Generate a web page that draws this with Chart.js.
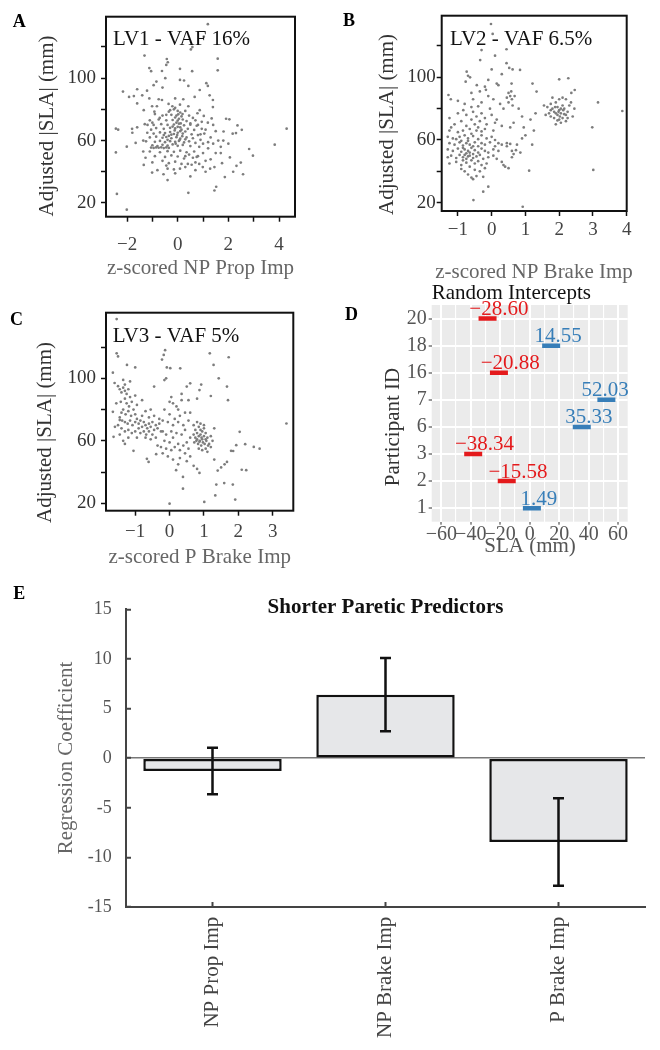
<!DOCTYPE html>
<html><head><meta charset="utf-8">
<script src="https://cdn.jsdelivr.net/npm/chart.js@4.4.1/dist/chart.umd.min.js"></script>
<style>
html,body{margin:0;padding:0;background:#fff;}
#wrap{position:relative;width:660px;height:1050px;overflow:hidden;background:#fff;}
canvas{position:absolute;}
</style></head><body>
<div id="wrap">
<canvas id="cA" width="330" height="290" style="left:0;top:0"></canvas>
<canvas id="cB" width="330" height="290" style="left:330px;top:0"></canvas>
<canvas id="cC" width="330" height="280" style="left:0;top:290px"></canvas>
<canvas id="cD" width="330" height="290" style="left:330px;top:280px"></canvas>
<canvas id="cE" width="660" height="480" style="left:0;top:570px"></canvas>
</div>
<script>
// ---------------- DATA ----------------
// Panel A: z-scored NP Prop Imp vs Adjusted |SLA| (mm)
const lv1Pts = [
[1.19,134.6],[1.03,126.6],[0.58,119.9],[0.52,118.4],[-1.31,114.5],[1.58,112.5],[-0.43,112.3],[-0.39,110.2],[-0.45,108.5],[1.58,105],
[-1.12,106.5],[0.09,106],[-1.05,104.5],[-0.62,104.6],[0.57,104.5],[-0.49,100],[0.09,98.9],[0.25,98.5],[-0.84,97.8],[1.13,96.8],
[1.19,95],[-0.95,95.5],[-0.6,94],[0.42,95],[-2.16,91.4],[-1.6,92.9],[0.87,92.4],[-1.92,88],[-1.73,88.5],[-1.21,92],
[-1.12,87],[-1.4,89],[-0.75,86.5],[-0.62,86],[-0.1,87],[0.22,86.5],[0.67,88],[1.26,89],[1.39,86],[0.09,83],
[-1.6,83.8],[-1.01,82],[-0.82,82],[-0.36,83.5],[-0.1,81],[0.42,82],[0.87,79.5],[1.39,81.5],[-1.34,79.5],[-0.92,78.5],
[-0.3,79.5],[-0.21,82],[0.19,77],[0.78,77.5],[1.03,75.8],[1.34,74.2],[1.91,74],[2.04,73.6],[1.19,71.5],[-0.45,76.5],
[-0.71,74.5],[-1.0,71.5],[-1.19,70],[-1.6,68.5],[-1.8,67.5],[-2.44,67.6],[-2.35,67],[2.36,69.7],[2.53,66.9],[2.3,64.8],
[2.17,64.4],[1.81,65.8],[4.3,67.6],[2.82,54.6],[3.83,57.4],[2.97,50.3],[2.06,49.2],[1.75,45.5],[2.49,45.9],[2.32,43.8],
[2.19,40],[2.58,38.4],[1.86,36.6],[1.45,43],[1.28,42],[0.99,43],[1.52,30.4],[1.45,28],[0.42,26.5],[0.09,42],
[-0.1,39],[-0.4,34.7],[-0.56,38.4],[-1.01,39.5],[-1.34,44.4],[-1.27,49],[-1.36,53],[-1.36,60],[-1.66,58.5],[-1.79,65],
[-2.01,56.1],[-2.44,52.4],[-2.4,25.8],[-2.01,15.7],
[1.6,60],[1.4,58],[1.7,56],[1.2,55],[1.5,52],[1.0,52],[0.8,50],[1.3,48],[1.1,47],[0.6,49],[0.4,45],[0.3,50],[0.7,46],
[1.0,58],[1.3,62],[0.9,64],[1.5,66],[1.1,67],[0.8,70],[0.5,71],[1.8,60],[2.0,58],[1.7,52],[1.1,40],[0.7,41],[0.5,37],
[-0.15,80],[0.0,79],[-0.35,78.5],[0.1,78],[0.3,79],
[-0.6,76],[-0.25,76.5],[-0.05,76],[0.15,75.5],[0.45,76],[-0.9,77],[0.6,74.5],
[-1.1,73],[-0.75,73.5],[-0.45,73],[-0.2,73.2],[0.0,72.8],[0.2,73.5],[0.35,72.5],[0.7,73],[0.95,72],
[-1.3,70.5],[-0.95,70],[-0.65,70.5],[-0.4,70],[-0.15,70.3],[0.05,70.8],[0.25,69.8],[0.5,70.2],[0.75,69.5],[1.4,70],
[-0.85,68],[-0.55,67.5],[-0.3,68.2],[-0.1,67.8],[0.1,68.5],[0.15,67],[0.4,67.5],[0.65,66.8],[0.95,67.5],[-1.05,67],
[-1.2,65],[-0.95,64.5],[-0.7,65.2],[-0.5,64.8],[-0.3,65.5],[-0.15,64.2],[0.0,65],[0.2,64.5],[0.3,65.8],[0.55,64],[0.8,63.5],[1.05,64.5],
[-1.1,62],[-0.85,62.5],[-0.6,61.8],[-0.45,62.3],[-0.25,61.5],[-0.05,62.2],[0.1,61.2],[0.35,62],[0.6,61.5],[0.9,60.5],[-0.35,63],
[-1.25,59.5],[-0.9,59.2],[-0.7,59.8],[-0.5,59],[-0.3,59.6],[-0.1,59.2],[0.05,59.8],[0.25,58.8],[0.45,59.5],[0.7,58.5],[1.2,59],
[-1.0,57],[-0.8,56.5],[-0.6,57.3],[-0.4,56.8],[-0.2,57.5],[0.0,56.6],[0.2,57.2],[0.5,56.5],[0.85,56],
[-1.05,55.5],[-0.95,55.3],[-0.85,55.6],[-0.75,55.4],[-0.65,55.7],[-0.55,55.2],[-0.45,55.6],[-0.35,55.3],
[-1.1,53],[-0.7,52.5],[-0.4,53.2],[-0.15,52.8],[0.1,53.5],[0.35,52.5],[0.65,53],
[-0.9,50],[-0.5,49.5],[-0.25,50.5],[0.0,49.8],[0.25,48.5],[0.45,51],[0.75,49.5],
[-1.0,46],[-0.6,47],[-0.35,45.5],[-0.45,44],[-0.1,46.5],[0.15,45],[0.55,44.5],[0.85,45],
[-0.4,42],[-0.15,41.5],[0.3,43],[-0.8,41],
[0.05,74],[-0.05,71.5],[0.1,66],[-0.02,63.5],[0.08,60.5],[-0.2,69],[0.12,71],[-0.12,66.5],[0.0,68.8],[-0.25,63.8],
[0.18,62.8],[-0.08,58],[0.3,60.8],[-0.4,60.5],[-0.55,63.5],[0.02,76.8],[-0.1,74.8]
];

// Panel B: z-scored NP Brake Imp vs Adjusted |SLA| (mm)
const lv2Pts = [
[-0.02,134],[0.03,127.7],[0.44,117.9],[-0.3,117.4],[0.1,113.8],[-0.34,111],[0.44,109],[0.52,106],[0.62,105],[0.84,104.7],
[-0.74,103.6],[-0.7,101],[0.0,105],[0.3,102],[-0.1,98.3],[-0.77,97.2],[-0.64,100],[-0.44,95],[0.2,95],[-0.17,92],
[0.59,96],[1.21,96],[1.33,90.9],[2.27,99.4],[2.0,98.7],[2.46,91.9],[2.36,90],[3.15,84],[3.87,78.5],[2.98,68.1],
[3.01,40.9],[1.11,40.4],[0.92,17.4],[-0.54,21.7],[-0.25,27],[-0.1,30.2],
[-1.28,88.7],[-1.21,86],[-1.0,85],[-0.8,83],[-0.55,86],[-0.3,84],[-0.1,88],[0.05,86],[0.25,83],[0.35,80],
[0.8,80],[0.9,75],[1.15,73],[1.3,77],[0.65,71],[0.55,68],[0.3,69],[0.15,73],[0.0,76],[0.1,71],[-0.05,80],
[-0.35,91],[-0.6,90],[-0.2,94],[0.15,96],
[0.5,90],[0.55,88],[0.6,86],[0.5,84],[0.62,82],[0.58,91],[0.45,87],[0.68,88],
[0.6,53],[0.72,53.5],[0.65,51],[0.6,49],[0.75,57],[0.9,61],[1.0,63],[0.45,56],[0.35,44],[0.4,43],[0.5,42],[0.3,46],
[0.15,48],[0.2,58],[0.3,57],[0.45,58],[0.55,57.5],[0.85,52],[1.2,57],[1.25,66],[0.95,68],
[1.65,81],[1.75,83],[1.8,80],[1.85,78],[1.9,84],[1.95,81],[2.0,79],[2.05,77],[2.1,82],[2.15,80],[2.2,76],[2.25,78],[2.3,82],
[1.7,77],[1.75,75],[1.85,74],[1.95,76],[2.0,73],[2.05,71],[2.1,74],[2.2,72],[1.9,70],[1.95,72.5],[2.0,86],[2.1,87],[2.2,86],
[2.35,84],[2.4,75],[2.45,80],[1.6,76],[1.55,82],[1.8,87],[1.9,77],[2.05,80],[2.15,76.5],[1.98,78],[1.88,81],[2.12,79],
[2.02,75],[1.75,79],[2.25,74],
[-0.9,72],[-0.6,73],[-0.35,72],[-0.15,70],[-0.5,70],[-0.75,69],[-1.1,70],[-1.2,68],
[-1.25,66],[-1.0,65],[-0.85,66],[-0.65,67],[-0.45,66],[-0.3,65.5],[-0.4,68],[-0.2,67],[0.05,66],
[-1.3,62],[-1.15,61],[-0.95,62],[-0.8,63],[-0.7,61],[-0.55,62.5],[-0.4,60.5],[-0.3,63],[-0.15,61],[0.0,62],[0.1,60],[-0.6,64],[-1.05,60.5],
[-1.25,58],[-1.1,57],[-0.95,58.5],[-0.85,56.5],[-0.75,58],[-0.65,57],[-0.5,58.5],[-0.4,56],[-0.3,58],[-0.2,57],[-0.05,58.5],[0.1,56],
[-0.55,56],[-0.9,59.5],[-0.7,59.5],
[-1.3,54],[-1.15,53],[-1.0,54.5],[-0.9,52.5],[-0.8,54],[-0.7,53],[-0.6,55],[-0.5,53.5],[-0.4,52],[-0.3,54.5],[-0.2,53],[-0.1,52],
[0.05,54],[0.2,53],[-0.85,55],[-0.75,51.5],[-0.65,52],[-0.55,51],
[-1.3,49],[-1.2,50],[-1.05,48.5],[-0.95,50.5],[-0.85,49],[-0.75,48],[-0.65,50],[-0.55,48.5],[-0.45,49.5],[-0.35,50.5],[-0.25,48],
[-0.1,49],[0.05,50],[-0.7,49.5],[-0.8,50.5],
[-1.25,45],[-1.05,46],[-0.9,44],[-0.75,45.5],[-0.65,43],[-0.5,45],[-0.4,46.5],[-0.3,44],[-0.15,45],[-0.6,47],[-0.85,47],
[-0.8,40],[-0.7,38],[-0.6,36],[-0.45,37],[-0.35,40],[-0.25,36.5],[-0.5,41],[-0.9,41.5],[-0.2,42],[-0.55,35],
[-0.84,79],[-0.55,78],[-0.3,77],[-0.75,76],[-0.45,75],[-0.2,74],[-1.0,77],[-0.6,81],[-0.4,81.5],[-1.25,74]
];

// Panel C: z-scored P Brake Imp vs Adjusted |SLA| (mm)
const lv3Pts = [
[-1.54,137.9],[-1.54,116],[-1.5,114],[-1.24,108.6],[-1.0,107],[-1.65,103.6],[-0.13,118],[-0.17,115],[-0.22,112],[-0.08,107],
[0.02,106.5],[0.31,106.4],[-0.15,98.9],[-0.1,100],[0.6,96.8],[0.92,96],[1.17,116],[1.28,108.6],[1.72,113.5],[1.43,100],
[1.67,94.7],[1.7,86],[1.2,88.7],[0.8,87],[0.87,92.5],[0.5,94.7],[-0.45,94.7],[3.4,71.1],[2.04,65.8],[2.2,57.9],
[1.94,57.2],[2.45,56.1],[2.62,55],[1.79,53.6],[1.85,53.5],[2.23,41.2],[2.1,41.5],[1.84,32],[1.59,33],[1.91,22.4],
[1.36,32],[1.33,25.1],[1.01,20.9],[0.0,19.8],[0.39,29.4],[0.39,36.9],[0.87,39.5],[1.5,43],[1.4,41],[1.6,45],
[1.67,46.5],[1.3,48],[-0.61,46.5],[-0.66,48.5],[-0.39,51.5],[0.19,41.2],[-1.63,62.6],[-1.3,58],[-1.05,53.6],[-1.65,78.6],
[-1.59,69],[-1.45,73.3],[-1.55,84],[-1.6,97],[-1.35,99],[-1.15,98],[-1.3,96],
[-1.5,95],[-1.45,93],[-1.4,91],[-1.35,94],[-1.3,92],[-1.25,90],[-1.2,93],[-1.15,88],[-1.3,87],[-1.42,85],
[-1.25,84],[-1.18,82],[-1.1,85],[-1.05,80],[-1.35,80],[-1.4,78],[-1.28,77],[-1.2,79],[-1.12,76],[-1.0,77],
[-0.95,74],[-1.45,75],[-1.38,73],[-1.3,72],[-1.22,71],[-1.15,73],[-1.08,70],[-1.0,72],[-0.9,71],[-0.85,73],
[-0.8,69],[-0.75,72],[-0.7,70],[-0.65,68],[-0.6,71],[-0.55,69],[-0.5,72],[-0.45,67],[-0.4,70],[-0.35,68],
[-0.3,71],[-0.25,66],[-1.4,68],[-1.3,66],[-1.2,67],[-1.1,65],[-1.0,66],[-0.9,68],[-0.85,65],[-0.75,66],
[-0.68,64],[-0.6,66],[-0.5,64],[-1.45,64],[-1.5,70],[-1.2,62],[-0.95,62],[-0.7,62],[-0.55,61],[-1.35,60],
[-0.8,76],[-0.6,75],[-0.45,76],[-0.3,74],[-0.2,73],[-0.95,83],[-0.8,86],[-1.0,89],[-0.7,79],[-0.55,80],
[-0.15,80],[0.0,85],[0.05,88],[0.1,84],[0.2,82],[0.35,86],[0.45,78],[0.3,76],[0.15,74],[0.0,77],
[-0.05,72],[0.1,70],[0.25,72],[0.4,70],[0.55,73],[0.6,78],[-0.2,66],[-0.1,64],[0.05,66],[0.2,65],
[0.35,64],[0.45,67],[0.6,62],[-0.15,60],[0.0,59],[0.1,62],[0.25,58],[0.4,57],[0.5,59],[-0.25,56],
[-0.1,55],[0.05,54],[0.15,56],[0.3,54],[0.45,52],[0.55,55],[-0.05,50],[0.1,48],[0.3,49],[0.5,47],
[0.6,50],[0.7,44],[0.8,42],[0.25,45],[-0.2,52],[-0.35,57],[-0.4,62],[0.35,90],[0.55,86],[0.25,80],
[0.7,70],[0.75,67],[0.8,72],[0.85,69],[0.9,71],[0.95,66],[1.0,68],[0.7,64],[0.75,62],[0.8,65],
[0.85,63],[0.9,64],[0.95,61],[1.0,63],[1.05,65],[1.1,62],[0.72,59],[0.78,60],[0.83,58],[0.88,60],
[0.92,57],[0.97,59],[1.02,58],[1.07,60],[1.12,57],[0.85,55],[0.95,54],[1.05,55],[1.1,53],[1.15,58],
[0.9,67],[1.0,70],[0.8,61],[0.93,62],[0.87,59.5],[1.05,61],[1.2,63],[1.2,56],[1.3,68],[1.25,60]
];

// Panel D: random intercepts per participant
const participantIds = ['1','2','3','6','7','16','18','20'];
const intercepts = [1.49, -15.58, -38.34, 35.33, 52.03, -20.88, 14.55, -28.60];
const interceptTicks = [-60,-50,-40,-30,-20,-10,0,10,20,30,40,50,60];

// Panel E: regression coefficients
const predictors = ['NP Prop Imp','NP Brake Imp','P Brake Imp'];
const coef = [-1.3, 6.4, -8.45];
const coefErr = [2.35, 3.7, 4.4];
const coefTicks = [-15,-10,-5,0,5,10,15];

// tick lists for scatter panels
const slaTicks = [20,40,60,80,100,120];
const slaLabeled = [20,60,100];
const aTicks = [-2,-1,0,1,2,3,4];
const aLabeled = [-2,0,2,4];
const bTicks = [-1,0,1,2,3,4];
const cTicks = [-1,0,1,2,3];

// ---------------- RENDER ----------------
const SERIF = "'Liberation Serif', 'Times New Roman', serif";
Chart.defaults.font.family = SERIF;
Chart.defaults.animation = false;

const minus = v => (v < 0 ? '\u2212' + Math.abs(v) : String(v));

function textPlugin(items) {
  return {
    id: 'panelText',
    afterDraw(chart) {
      const ctx = chart.ctx;
      items.forEach(it => {
        ctx.save();
        ctx.font = it.font;
        ctx.fillStyle = it.color || '#000';
        ctx.textAlign = it.align || 'left';
        ctx.textBaseline = it.baseline || 'alphabetic';
        ctx.translate(it.x, it.y);
        if (it.rot) ctx.rotate(it.rot);
        ctx.fillText(it.text, 0, 0);
        ctx.restore();
      });
    }
  };
}
const framePlugin = {
  id: 'frame',
  afterDatasetsDraw(chart) {
    const a = chart.chartArea, ctx = chart.ctx;
    ctx.save();
    ctx.strokeStyle = '#111';
    ctx.lineWidth = 2;
    ctx.strokeRect(a.left, a.top, a.right - a.left, a.bottom - a.top);
    ctx.restore();
  }
};

function scatterPanel(id, pts, g) {
  return new Chart(document.getElementById(id), {
    type: 'scatter',
    data: { datasets: [{ data: pts.map(p => ({ x: p[0], y: p[1] })),
      pointRadius: 1.35, pointHoverRadius: 1.35, pointBackgroundColor: '#7d7d7d', pointBorderWidth: 0 }] },
    options: {
      responsive: false, animation: false, devicePixelRatio: 1, events: [],
      layout: { padding: { left: 0, top: g.top, right: g.right, bottom: 0 } },
      plugins: { legend: { display: false }, tooltip: { enabled: false } },
      scales: {
        x: {
          type: 'linear', min: g.xMin, max: g.xMax, bounds: 'data',
          afterBuildTicks: s => { s.ticks = g.xTicks.map(v => ({ value: v })); },
          afterFit: s => { s.height = g.xH; },
          grid: { drawOnChartArea: false, drawTicks: true, tickLength: 5, tickColor: '#111', tickWidth: 1.5 },
          border: { display: false },
          ticks: { autoSkip: false, maxRotation: 0, padding: g.xPad, color: '#444', font: { size: 19 },
            callback: v => (g.xLab.includes(v) ? minus(v) : '') }
        },
        y: {
          type: 'linear', min: g.yMin, max: g.yMax, bounds: 'data',
          afterBuildTicks: s => { s.ticks = slaTicks.map(v => ({ value: v })); },
          afterFit: s => { s.width = g.yW; },
          grid: { drawOnChartArea: false, drawTicks: true, tickLength: 5, tickColor: '#111', tickWidth: 1.5 },
          border: { display: false },
          ticks: { autoSkip: false, padding: g.yPad, color: '#333', font: { size: 19 },
            callback: v => (slaLabeled.includes(v) ? String(v) : '') }
        }
      }
    },
    plugins: [framePlugin, textPlugin(g.texts)]
  });
}

const F21 = '21px ' + SERIF;
const B18 = 'bold 18px ' + SERIF;
const R90 = -Math.PI / 2;

scatterPanel('cA', lv1Pts, {
  top: 16.7, right: 35, xH: 73.3, yW: 106, xPad: 12, yPad: 5,
  xMin: -2.83, xMax: 4.63, xTicks: aTicks, xLab: aLabeled, yMin: 11.2, yMax: 139.4,
  texts: [
    { text: 'A', x: 12.7, y: 26.7, font: B18 },
    { text: 'LV1 - VAF 16%', x: 113, y: 45, font: F21, color: '#111' },
    { text: 'Adjusted |SLA| (mm)', x: 47.7, y: 126, rot: R90, align: 'center', baseline: 'middle', font: F21, color: '#333' },
    { text: 'z-scored NP Prop Imp', x: 200.5, y: 274, align: 'center', font: F21, color: '#666' }
  ]
});
scatterPanel('cB', lv2Pts, {
  top: 15.7, right: 33.3, xH: 79, yW: 111.7, xPad: 2.6, yPad: 1,
  xMin: -1.48, xMax: 4.0, xTicks: bTicks, xLab: bTicks, yMin: 14.7, yMax: 139.3,
  texts: [
    { text: 'B', x: 13, y: 26, font: B18 },
    { text: 'LV2 - VAF 6.5%', x: 120, y: 45, font: F21, color: '#111' },
    { text: 'Adjusted |SLA| (mm)', x: 57.5, y: 124.5, rot: R90, align: 'center', baseline: 'middle', font: F21, color: '#333' },
    { text: 'z-scored NP Brake Imp', x: 204, y: 278, align: 'center', font: F21, color: '#666' }
  ]
});
scatterPanel('cC', lv3Pts, {
  top: 22.7, right: 36.7, xH: 59.3, yW: 106, xPad: 4.9, yPad: 5,
  xMin: -1.85, xMax: 3.6, xTicks: cTicks, xLab: cTicks, yMin: 15.3, yMax: 142,
  texts: [
    { text: 'C', x: 10, y: 35, font: B18 },
    { text: 'LV3 - VAF 5%', x: 112.7, y: 51.7, font: F21, color: '#111' },
    { text: 'Adjusted |SLA| (mm)', x: 45.8, y: 142.5, rot: R90, align: 'center', baseline: 'middle', font: F21, color: '#333' },
    { text: 'z-scored P Brake Imp', x: 199.7, y: 273.3, align: 'center', font: F21, color: '#666' }
  ]
});

// Panel D
const RED = '#E41A1C', BLUE = '#377EB8';
const dColors = intercepts.map(v => (v < 0 ? RED : BLUE));
const panelBg = {
  id: 'panelBg',
  beforeDraw(chart) {
    const a = chart.chartArea, ctx = chart.ctx;
    ctx.save(); ctx.fillStyle = '#EBEBEB';
    ctx.fillRect(a.left, a.top, a.right - a.left, a.bottom - a.top);
    ctx.restore();
  }
};
const valueLabels = {
  id: 'valueLabels',
  afterDatasetsDraw(chart) {
    const ctx = chart.ctx, a = chart.chartArea;
    const meta = chart.getDatasetMeta(0);
    ctx.save();
    ctx.font = F21; ctx.textBaseline = 'alphabetic'; ctx.textAlign = 'left';
    meta.data.forEach((el, i) => {
      const v = intercepts[i];
      const txt = (v < 0 ? '\u2212' : '') + Math.abs(v).toFixed(2);
      const w = ctx.measureText(txt).width;
      let left = el.x + (v < 0 ? 11.3 : 7) - w / 2;
      if (left + w > a.right + 1) left = a.right + 1 - w;
      ctx.fillStyle = dColors[i];
      ctx.fillText(txt, left, el.y - 3.5);
    });
    ctx.restore();
  }
};
new Chart(document.getElementById('cD'), {
  type: 'scatter',
  data: { datasets: [{
    data: participantIds.map((id, i) => ({ x: intercepts[i], y: id })),
    pointStyle: 'line', pointRadius: 9, pointHoverRadius: 9, pointBorderWidth: 4.5,
    pointBorderColor: dColors, pointBackgroundColor: dColors
  }] },
  options: {
    responsive: false, animation: false, devicePixelRatio: 1, events: [],
    layout: { padding: { left: 0, top: 25, right: 32.3, bottom: 0 } },
    plugins: { legend: { display: false }, tooltip: { enabled: false } },
    scales: {
      x: {
        type: 'linear', min: -66.5, max: 66.5, bounds: 'data',
        afterBuildTicks: s => { s.ticks = interceptTicks.map(v => ({ value: v })); },
        afterFit: s => { s.height = 48.3; },
        grid: { color: '#FFFFFF', lineWidth: c => (c.tick && c.tick.value % 20 === 0 ? 2 : 1.1),
          drawTicks: true, tickLength: 3, tickWidth: 1,
          tickColor: c => (c.tick && c.tick.value % 20 === 0 ? '#333' : 'rgba(0,0,0,0)') },
        border: { display: false },
        ticks: { autoSkip: false, maxRotation: 0, padding: 0, color: '#555', font: { size: 20, lineHeight: 1.0 },
          callback: v => (v % 20 === 0 ? minus(v) : '') }
      },
      y: {
        type: 'category', labels: participantIds.slice().reverse(), offset: true,
        afterFit: s => { s.width = 101.7; },
        grid: { color: '#FFFFFF', lineWidth: 2, offset: false, drawTicks: true, tickLength: 3, tickColor: '#333', tickWidth: 1 },
        border: { display: false },
        ticks: { autoSkip: false, padding: 2, color: '#555', font: { size: 20 } }
      }
    }
  },
  plugins: [panelBg, valueLabels, textPlugin([
    { text: 'D', x: 15, y: 40, font: B18 },
    { text: 'Random Intercepts', x: 101.7, y: 19, font: F21, color: '#111' },
    { text: 'Participant ID', x: 63, y: 147, rot: R90, align: 'center', baseline: 'middle', font: F21, color: '#333' },
    { text: 'SLA (mm)', x: 200, y: 272, align: 'center', font: F21, color: '#555' }
  ])]
});

// Panel E
const errBars = {
  id: 'errBars',
  afterDatasetsDraw(chart) {
    const meta = chart.getDatasetMeta(0), ys = chart.scales.y, ctx = chart.ctx;
    ctx.save(); ctx.strokeStyle = '#111'; ctx.lineWidth = 2.5;
    meta.data.forEach((bar, i) => {
      const lo = ys.getPixelForValue(coef[i] - coefErr[i]);
      const hi = ys.getPixelForValue(coef[i] + coefErr[i]);
      const x = bar.x, c = 5.5;
      ctx.beginPath();
      ctx.moveTo(x, lo); ctx.lineTo(x, hi);
      ctx.moveTo(x - c, lo); ctx.lineTo(x + c, lo);
      ctx.moveTo(x - c, hi); ctx.lineTo(x + c, hi);
      ctx.stroke();
    });
    ctx.restore();
  }
};
new Chart(document.getElementById('cE'), {
  type: 'bar',
  data: { labels: predictors, datasets: [{
    data: coef, backgroundColor: '#E6E7E9', borderColor: '#111', borderWidth: 2.5, borderSkipped: false,
    barPercentage: 0.8, categoryPercentage: 1.0
  }] },
  options: {
    responsive: false, animation: false, devicePixelRatio: 1, events: [],
    layout: { padding: { left: 0, top: 39.3, right: 15, bottom: 0 } },
    plugins: { legend: { display: false }, tooltip: { enabled: false } },
    scales: {
      x: {
        afterFit: s => { s.height = 143; },
        grid: { offset: false, drawOnChartArea: false, drawTicks: true, tickLength: -5, tickColor: '#444', tickWidth: 2 },
        border: { display: true, color: '#444', width: 2 },
        ticks: { autoSkip: false, minRotation: 90, maxRotation: 90, padding: 14.7, color: '#444', font: { size: 21 } }
      },
      y: {
        min: -15, max: 15, bounds: 'data',
        afterBuildTicks: s => { s.ticks = coefTicks.map(v => ({ value: v })); },
        afterFit: s => { s.width = 126; },
        grid: { color: c => (c.tick && c.tick.value === 0 ? '#777' : 'rgba(0,0,0,0)'), lineWidth: 1.5,
          drawTicks: true, tickLength: -5, tickColor: '#444', tickWidth: 2 },
        border: { display: true, color: '#444', width: 2 },
        ticks: { autoSkip: false, padding: 19.3, color: '#555', font: { size: 18 }, callback: v => String(v) }
      }
    }
  },
  plugins: [errBars, textPlugin([
    { text: 'E', x: 13.3, y: 29.3, font: B18 },
    { text: 'Shorter Paretic Predictors', x: 385.5, y: 42.7, align: 'center', font: 'bold 21px ' + SERIF, color: '#111' },
    { text: 'Regression Coefficient', x: 66, y: 188, rot: R90, align: 'center', baseline: 'middle', font: F21, color: '#666' }
  ])]
});
</script>
</body></html>
